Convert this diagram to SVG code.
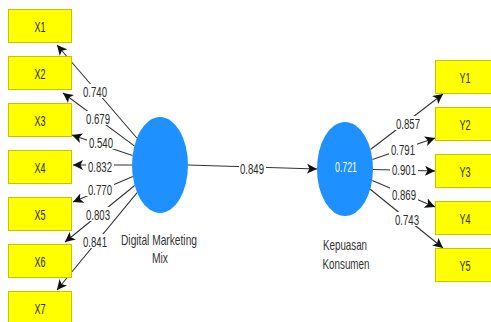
<svg xmlns="http://www.w3.org/2000/svg" width="491" height="322" viewBox="0 0 491 322">
<style>
.box{fill:#FFFF00;stroke:#C4C400;stroke-width:1}
.bt{font-family:"Liberation Sans",Arial,sans-serif;font-size:15px;fill:#2a2a00;text-anchor:middle}
.lv{fill:#1E90FF}
.cn{stroke:#333;stroke-width:1.1;fill:none;marker-end:url(#ah)}
.lb{fill:#fff}
.lt{font-family:"Liberation Sans",Arial,sans-serif;font-size:15px;fill:#2b2b2b;text-anchor:middle}
.nm{font-family:"Liberation Sans",Arial,sans-serif;font-size:14.5px;fill:#333;text-anchor:middle}
</style>
<defs>
<marker id="ah" markerUnits="userSpaceOnUse" markerWidth="12" markerHeight="10" refX="10" refY="5" orient="auto">
<path d="M0,0 L10,5 L0,10 L2.5,5 z" fill="#111"/>
</marker>
</defs>
<rect width="491" height="322" fill="#fff"/>
<g id="connectors">
<line class="cn" x1="136.8" y1="138" x2="57" y2="45"/>
<line class="cn" x1="134.3" y1="145.9" x2="63" y2="93"/>
<line class="cn" x1="132.5" y1="155.6" x2="72" y2="135"/>
<line class="cn" x1="132" y1="165" x2="73" y2="165"/>
<line class="cn" x1="132.8" y1="176.6" x2="73" y2="202"/>
<line class="cn" x1="134.7" y1="185.5" x2="65" y2="242"/>
<line class="cn" x1="137.1" y1="192.7" x2="57" y2="290"/>
<line class="cn" x1="188" y1="165" x2="317" y2="169"/>
<line class="cn" x1="370.5" y1="149.5" x2="443" y2="94"/>
<line class="cn" x1="372.4" y1="159.6" x2="435" y2="138"/>
<line class="cn" x1="373" y1="169.5" x2="435" y2="171"/>
<line class="cn" x1="372.2" y1="180.5" x2="435" y2="207"/>
<line class="cn" x1="370.2" y1="189.3" x2="443" y2="248"/>
<g id="labels">
<rect class="lb" x="81" y="84" width="28" height="14"/><text class="lt" x="95" y="96.5" textLength="24" lengthAdjust="spacingAndGlyphs">0.740</text>
<rect class="lb" x="84" y="111" width="28" height="14"/><text class="lt" x="98" y="123.5" textLength="24" lengthAdjust="spacingAndGlyphs">0.679</text>
<rect class="lb" x="87" y="135" width="28" height="14"/><text class="lt" x="101" y="147.5" textLength="24" lengthAdjust="spacingAndGlyphs">0.540</text>
<rect class="lb" x="86" y="159" width="28" height="14"/><text class="lt" x="100" y="171.5" textLength="24" lengthAdjust="spacingAndGlyphs">0.832</text>
<rect class="lb" x="86" y="182" width="28" height="14"/><text class="lt" x="100" y="194.5" textLength="24" lengthAdjust="spacingAndGlyphs">0.770</text>
<rect class="lb" x="84" y="207" width="28" height="14"/><text class="lt" x="98" y="219.5" textLength="24" lengthAdjust="spacingAndGlyphs">0.803</text>
<rect class="lb" x="81" y="234" width="28" height="14"/><text class="lt" x="95" y="246.5" textLength="24" lengthAdjust="spacingAndGlyphs">0.841</text>
<rect class="lb" x="239" y="161" width="27" height="14"/><text class="lt" x="252" y="173.5" textLength="24" lengthAdjust="spacingAndGlyphs">0.849</text>
<rect class="lb" x="394" y="116" width="28" height="14"/><text class="lt" x="408" y="128.5" textLength="24" lengthAdjust="spacingAndGlyphs">0.857</text>
<rect class="lb" x="389" y="142" width="28" height="14"/><text class="lt" x="403" y="154.5" textLength="24" lengthAdjust="spacingAndGlyphs">0.791</text>
<rect class="lb" x="390" y="162" width="28" height="14"/><text class="lt" x="404" y="174.5" textLength="24" lengthAdjust="spacingAndGlyphs">0.901</text>
<rect class="lb" x="390" y="187" width="28" height="14"/><text class="lt" x="404" y="199.5" textLength="24" lengthAdjust="spacingAndGlyphs">0.869</text>
<rect class="lb" x="393" y="212" width="28" height="14"/><text class="lt" x="407" y="224.5" textLength="24" lengthAdjust="spacingAndGlyphs">0.743</text>
</g>
</g>
<g id="X1"><rect class="box" x="8.5" y="9.5" width="63" height="33"/><text class="bt" x="40" y="31.5" textLength="11" lengthAdjust="spacingAndGlyphs">X1</text></g>
<g id="X2"><rect class="box" x="8.5" y="56.5" width="63" height="33"/><text class="bt" x="40" y="78.5" textLength="11" lengthAdjust="spacingAndGlyphs">X2</text></g>
<g id="X3"><rect class="box" x="8.5" y="103.5" width="63" height="33"/><text class="bt" x="40" y="125.5" textLength="11" lengthAdjust="spacingAndGlyphs">X3</text></g>
<g id="X4"><rect class="box" x="8.5" y="150.5" width="63" height="33"/><text class="bt" x="40" y="172.5" textLength="11" lengthAdjust="spacingAndGlyphs">X4</text></g>
<g id="X5"><rect class="box" x="8.5" y="197.5" width="63" height="33"/><text class="bt" x="40" y="219.5" textLength="11" lengthAdjust="spacingAndGlyphs">X5</text></g>
<g id="X6"><rect class="box" x="8.5" y="244.5" width="63" height="33"/><text class="bt" x="40" y="266.5" textLength="11" lengthAdjust="spacingAndGlyphs">X6</text></g>
<g id="X7"><rect class="box" x="8.5" y="291.5" width="63" height="33"/><text class="bt" x="40" y="313.5" textLength="11" lengthAdjust="spacingAndGlyphs">X7</text></g>
<g id="Y1"><rect class="box" x="435.5" y="60.5" width="60" height="33"/><text class="bt" x="465" y="82.5" textLength="11" lengthAdjust="spacingAndGlyphs">Y1</text></g>
<g id="Y2"><rect class="box" x="435.5" y="107.5" width="60" height="33"/><text class="bt" x="465" y="129.5" textLength="11" lengthAdjust="spacingAndGlyphs">Y2</text></g>
<g id="Y3"><rect class="box" x="435.5" y="154.5" width="60" height="33"/><text class="bt" x="465" y="176.5" textLength="11" lengthAdjust="spacingAndGlyphs">Y3</text></g>
<g id="Y4"><rect class="box" x="435.5" y="201.5" width="60" height="33"/><text class="bt" x="465" y="223.5" textLength="11" lengthAdjust="spacingAndGlyphs">Y4</text></g>
<g id="Y5"><rect class="box" x="435.5" y="248.5" width="60" height="33"/><text class="bt" x="465" y="270.5" textLength="11" lengthAdjust="spacingAndGlyphs">Y5</text></g>
<g id="DigitalMarketingMix">
<ellipse class="lv" cx="160" cy="165" rx="28" ry="48"/>
<text class="nm" x="159" y="245" textLength="76" lengthAdjust="spacingAndGlyphs">Digital Marketing</text>
<text class="nm" x="160" y="263" textLength="16" lengthAdjust="spacingAndGlyphs">Mix</text>
</g>
<g id="KepuasanKonsumen">
<ellipse class="lv" cx="345" cy="169" rx="28" ry="47"/>
<text class="lt" x="346" y="171.5" textLength="22" lengthAdjust="spacingAndGlyphs" style="fill:#fff">0.721</text>
<text class="nm" x="345" y="250" textLength="44" lengthAdjust="spacingAndGlyphs">Kepuasan</text>
<text class="nm" x="346" y="269" textLength="47" lengthAdjust="spacingAndGlyphs">Konsumen</text>
</g>
</svg>
